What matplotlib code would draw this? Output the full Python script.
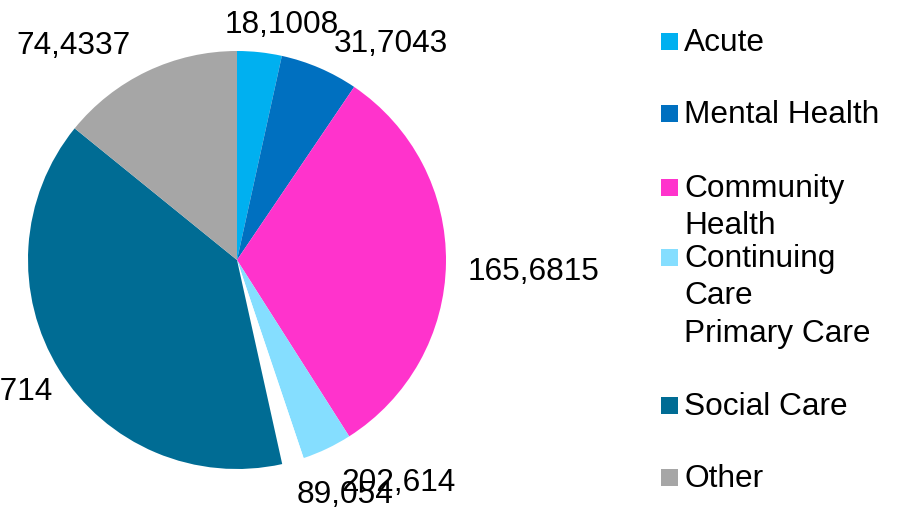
import matplotlib
matplotlib.use("Agg")
import matplotlib.pyplot as plt
from matplotlib.patches import Rectangle

# ---- data ----
categories = ["Acute", "Mental Health", "Community Health", "Continuing Care",
              "Primary Care", "Social Care", "Other"]
legend_labels = ["Acute", "Mental Health", "Community\nHealth", "Continuing\nCare",
                 "Primary Care", "Social Care", "Other"]
values = [18.1008, 31.7043, 165.6815, 20.2614, 8.9054, 206.714, 74.4337]
value_labels = ["18,1008", "31,7043", "165,6815", "202,614", "89,054", "206,714", "74,4337"]
colors = ["#00B0F0", "#0070C0", "#FF33CC", "#85DEFF", "#FFFFFF", "#006C94", "#A6A6A6"]

# ---- layout (pixels) ----
W, H = 897, 507
CX, CY, R = 237, 260, 209
FS = 22.8
# label anchor (x, baseline y, ha)
label_pos = [(282, 33, "center"), (391, 52, "center"), (534, 280, "center"),
             (398, 491, "center"), (345, 503, "center"), (53, 400, "right"),
             (74, 54, "center")]
legend_baselines = [51, 123, 197, 267, 342, 415, 487]

plt.rcParams['font.family'] = ['Liberation Sans', 'DejaVu Sans']

fig = plt.figure(figsize=(W / 100, H / 100), dpi=100)
ax = fig.add_axes([(CX - R) / W, (H - CY - R) / H, 2 * R / W, 2 * R / H])
ax.pie(values, colors=colors, startangle=90, counterclock=False, radius=1,
       wedgeprops=dict(linewidth=0))
ax.set_xlim(-1, 1)
ax.set_ylim(-1, 1)
ax.axis('off')

for lab, (px, py, ha) in zip(value_labels, label_pos):
    fig.text(px / W, 1 - py / H, lab, fontsize=FS, ha=ha, va='baseline', color='black')

# ---- legend (manual, mimicking spreadsheet layout) ----
for lab, col, base in zip(legend_labels, colors, legend_baselines):
    fig.patches.append(Rectangle((661 / W, 1 - (base - 1) / H), 17 / W, 17 / H,
                                 transform=fig.transFigure, facecolor=col,
                                 edgecolor='none'))
    for i, ln in enumerate(lab.split("\n")):
        fig.text(684 / W, 1 - (base + i * 37) / H, ln, fontsize=FS,
                 ha='left', va='baseline', color='black')

fig.savefig("out.png", dpi=100)
